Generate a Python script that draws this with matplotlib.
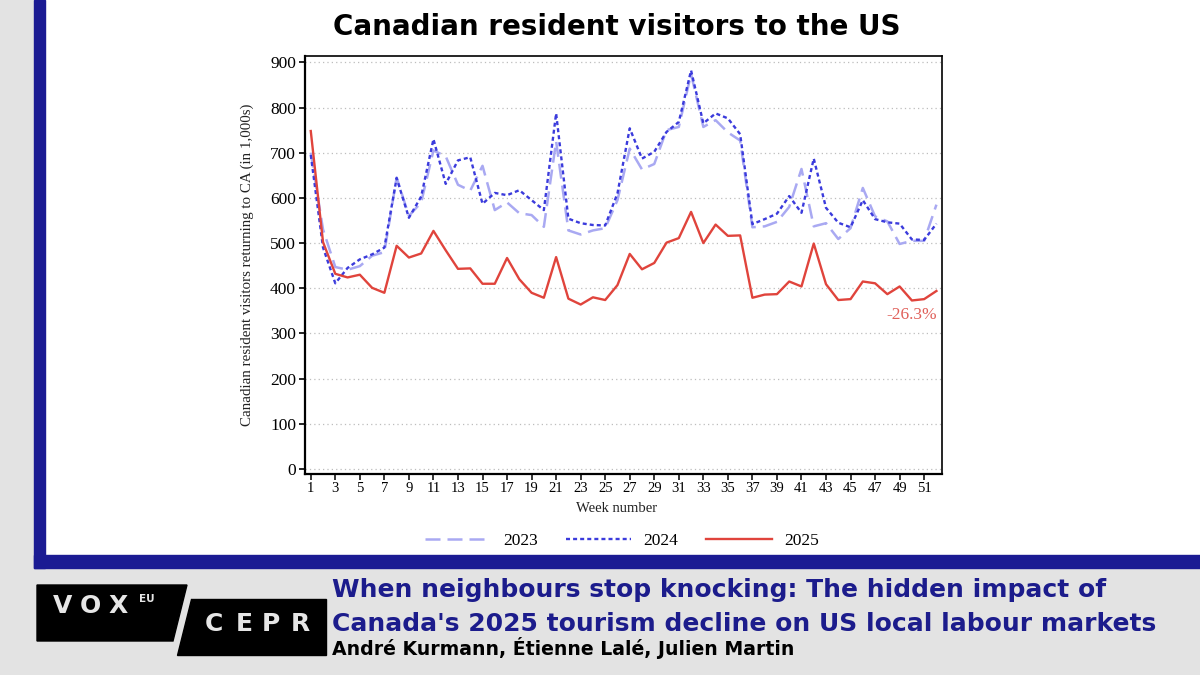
import matplotlib
matplotlib.use("Agg")
import matplotlib.pyplot as plt
from matplotlib.patches import Rectangle, Polygon
from matplotlib.lines import Line2D

plt.rcParams["font.family"] = ["Liberation Serif", "DejaVu Serif"]

# Weekly Canadian resident visitors returning from the US (in 1,000s)
weeks = list(range(1, 53))
v2023 = [700, 530, 447, 441, 449, 472, 480, 645, 560, 590,
         705, 692, 629, 616, 671, 573, 590, 566, 562, 536,
         725, 528, 519, 528, 533, 595, 709, 663, 675, 750,
         757, 874, 757, 772, 745, 727, 535, 537, 547, 580,
         664, 537, 544, 509, 533, 622, 559, 548, 498, 505,
         505, 585]
v2024 = [695, 490, 411, 445, 464, 475, 490, 644, 556, 603,
         730, 631, 683, 690, 587, 611, 606, 617, 595, 573,
         787, 554, 544, 540, 539, 610, 754, 687, 702, 746,
         768, 882, 765, 787, 776, 741, 542, 553, 565, 604,
         567, 687, 578, 545, 535, 595, 553, 546, 543, 508,
         507, 543]
v2025 = [748, 502, 432, 424, 430, 401, 390, 494, 468, 477,
         527, 484, 443, 444, 410, 410, 467, 420, 390, 379,
         469, 377, 364, 380, 374, 407, 476, 442, 456, 501,
         511, 569, 500, 541, 516, 517, 379, 386, 387, 415,
         404, 499, 409, 374, 376, 415, 411, 387, 404, 373,
         376, 394]

series_labels = ["2023", "2024", "2025"]
x_ticks = list(range(1, 52, 2))
y_ticks = list(range(0, 901, 100))

chart_title = "Canadian resident visitors to the US"
y_title = "Canadian resident visitors returning to CA (in 1,000s)"
x_title = "Week number"
change_note = "-26.3%"
headline = ["When neighbours stop knocking: The hidden impact of",
            "Canada's 2025 tourism decline on US local labour markets"]
authors = "André Kurmann, Étienne Lalé, Julien Martin"

c23 = "#a9a9f2"
c24 = "#3b3bdc"
c25 = "#e0443c"
gray = "#e3e3e3"
navy = "#1b1b93"
navy_text = "#1c1c8c"

W, H = 1200, 675


def fx(x):
    return x / W


def fy(y):
    return 1 - y / H


fig = plt.figure(figsize=(12, 6.75), dpi=100)
fig.patch.set_facecolor("white")

# frame: grey margins and blue bars
tf = fig.transFigure
fig.add_artist(Rectangle((0, 0), fx(34), 1, transform=tf, color=gray, zorder=0))
fig.add_artist(Rectangle((0, 0), 1, fy(568), transform=tf, color=gray, zorder=0))
fig.add_artist(Rectangle((fx(34), fy(568)), fx(11), 568 / H, transform=tf, color=navy, zorder=1))
fig.add_artist(Rectangle((fx(34), fy(568)), 1, 13 / H, transform=tf, color=navy, zorder=1))

# logo boxes
vox = [(37, 585), (187, 585), (173, 641), (37, 641)]
cepr = [(191, 599), (326, 599), (326, 655), (177, 655)]
for pts in (vox, cepr):
    fig.add_artist(Polygon([(fx(a), fy(b)) for a, b in pts], closed=True,
                           transform=tf, color="black", zorder=2))
for ch, x in zip("VOX", [63, 90, 118.5]):
    fig.text(fx(x), fy(606), ch, ha="center", va="center", fontsize=18,
             fontweight="bold", color="#e6e6e6", family="DejaVu Sans", zorder=3)
fig.text(fx(147), fy(599), "EU", ha="center", va="center", fontsize=7.5,
         fontweight="bold", color="#e6e6e6", family="DejaVu Sans", zorder=3)
for ch, x in zip("CEPR", [214, 244, 271, 300]):
    fig.text(fx(x), fy(624), ch, ha="center", va="center", fontsize=18,
             fontweight="bold", color="#e6e6e6", family="DejaVu Sans", zorder=3)

# headline and authors
fig.text(fx(332), fy(597), headline[0], va="baseline", fontsize=18,
         fontweight="bold", color=navy_text, family="DejaVu Sans")
fig.text(fx(332), fy(631), headline[1], va="baseline", fontsize=18,
         fontweight="bold", color=navy_text, family="DejaVu Sans")
fig.text(fx(332), fy(655), authors, va="baseline", fontsize=13.6,
         fontweight="bold", color="black", family="DejaVu Sans")

fig.text(fx(617), fy(27), chart_title, ha="center", va="center", fontsize=20,
         fontweight="bold", color="black", family="DejaVu Sans")

# chart
ax = fig.add_axes([fx(305), fy(474), (941.7 - 305) / W, (474 - 56) / H])
ax.plot(weeks, v2023, color=c23, lw=1.8, dashes=(6, 2.8))
ax.plot(weeks, v2024, color=c24, lw=1.7, dashes=(1.7, 1.3))
ax.plot(weeks, v2025, color=c25, lw=1.7)

ax.set_xlim(0.53, 52.43)
ax.set_ylim(-11, 914)
ax.set_xticks(x_ticks)
ax.set_yticks(y_ticks)
ax.yaxis.grid(True, color="#bdbdbd", linestyle=(0, (1, 2.5)), lw=0.9)
ax.set_axisbelow(True)

for s in ax.spines.values():
    s.set_linewidth(1.2)
    s.set_color("black")
ax.spines["left"].set_linewidth(1.6)
ax.spines["bottom"].set_linewidth(1.6)

ax.tick_params(axis="y", direction="out", length=4.5, width=1.2, labelsize=12.5, pad=2)
ax.tick_params(axis="x", direction="out", length=4, width=1.1, labelsize=10.5, pad=2)

ax.set_ylabel(y_title, fontsize=10.8, color="#222222")
ax.yaxis.set_label_coords(-0.08, 0.5)
ax.set_xlabel(x_title, fontsize=10.5, color="#222222")
ax.xaxis.set_label_coords(0.49, -0.068)

ax.text(52.05, 340, change_note, color="#e0605a", fontsize=12.5, ha="right", va="center")

handles = [Line2D([], [], color=c23, lw=1.8, dashes=(6, 2.8)),
           Line2D([], [], color=c24, lw=1.7, dashes=(1.7, 1.3)),
           Line2D([], [], color=c25, lw=1.7)]
fig.legend(handles, series_labels, loc="center", bbox_to_anchor=(fx(622), fy(541)),
           ncol=3, frameon=False, fontsize=12.5, handlelength=3.8,
           handletextpad=0.7, columnspacing=1.6)

fig.savefig("out.png", dpi=100)
